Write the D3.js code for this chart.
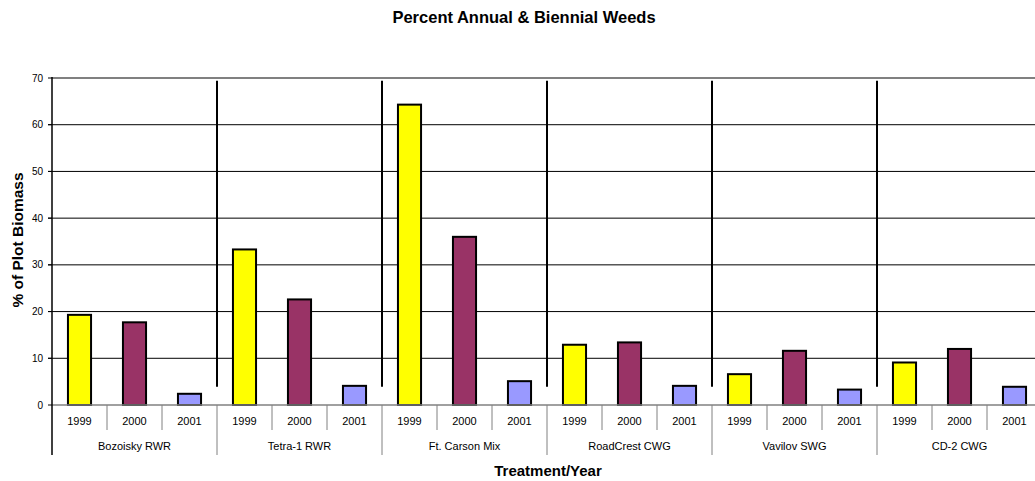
<!DOCTYPE html>
<html><head><meta charset="utf-8">
<script src="https://cdn.jsdelivr.net/npm/d3@7/dist/d3.min.js"></script>
<style>body{margin:0;background:#fff;}svg{display:block;font-family:"Liberation Sans",Arial,sans-serif;}</style>
</head><body>
<svg id="c" width="1035" height="481"></svg>
<script>
const groups = ["Bozoisky RWR","Tetra-1 RWR","Ft. Carson Mix","RoadCrest CWG","Vavilov SWG","CD-2 CWG"];
const years = ["1999","2000","2001"];
const v1999 = [19.3, 33.3, 64.3, 12.9, 6.6, 9.1];
const v2000 = [17.7, 22.6, 36.0, 13.4, 11.6, 12.0];
const v2001 = [2.4, 4.1, 5.1, 4.1, 3.3, 3.9];
const yTicks = [0,10,20,30,40,50,60,70];
const colors = ["#FFFF00","#993366","#9999FF"];

const series = [v1999, v2000, v2001];
const data = [];
groups.forEach((g,gi)=>years.forEach((y,yi)=>data.push({g, y, yi, v: series[yi][gi]})));

const svg = d3.select("#c");
const L = 52, R = 1042, T = 78, B = 405;
const xg = d3.scaleBand().domain(groups).range([L,R]);
const xy = d3.scaleBand().domain(years).range([0,xg.bandwidth()]).paddingInner(0.58).paddingOuter(0.29);
const xc = d3.scaleBand().domain(years).range([0,xg.bandwidth()]);
const y = d3.scaleLinear().domain([0,70]).range([B,T]);

// gridlines
svg.append("g").selectAll("line").data(yTicks.filter(t=>t>0 && t<70)).join("line")
  .attr("x1",L-4).attr("x2",R).attr("y1",d=>y(d)).attr("y2",d=>y(d))
  .attr("stroke","#000").attr("stroke-width",1);
// top border
svg.append("line").attr("x1",L).attr("x2",R).attr("y1",y(70)).attr("y2",y(70)).attr("stroke","#808080").attr("stroke-width",2);

// separators inside plot
svg.append("g").selectAll("line").data(groups.slice(1)).join("line")
  .attr("x1",d=>xg(d)).attr("x2",d=>xg(d)).attr("y1",y(69.4)).attr("y2",y(3.9))
  .attr("stroke","#000").attr("stroke-width",2);

// bars
svg.append("g").selectAll("rect").data(data).join("rect")
  .attr("x",d=>xg(d.g)+xy(d.y)).attr("width",xy.bandwidth())
  .attr("y",d=>y(d.v)).attr("height",d=>y(0)-y(d.v))
  .attr("fill",d=>colors[d.yi]).attr("stroke","#000").attr("stroke-width",2);

// baseline
svg.append("line").attr("x1",L).attr("x2",R).attr("y1",B).attr("y2",B).attr("stroke","#808080").attr("stroke-width",1.5);

// y axis
svg.append("line").attr("x1",L).attr("x2",L).attr("y1",T-1).attr("y2",455).attr("stroke","#000").attr("stroke-width",1.5);
const ya = svg.append("g");
ya.selectAll("line").data(yTicks).join("line")
  .attr("x1",L-4).attr("x2",L).attr("y1",d=>y(d)).attr("y2",d=>y(d)).attr("stroke","#000");
ya.selectAll("text").data(yTicks).join("text")
  .attr("x",L-9).attr("y",d=>y(d)).attr("dy","0.35em").attr("text-anchor","end")
  .attr("font-size",10).text(d=>d);

// category dividers
const cats = [];
groups.forEach(g=>years.forEach((yy,i)=>{ if(i>0) cats.push(xg(g)+xc(yy)); }));
svg.append("g").selectAll("line").data(cats).join("line")
  .attr("x1",d=>d).attr("x2",d=>d).attr("y1",B).attr("y2",430).attr("stroke","#808080");
svg.append("g").selectAll("line").data(groups.slice(1)).join("line")
  .attr("x1",d=>xg(d)).attr("x2",d=>xg(d)).attr("y1",B).attr("y2",455).attr("stroke","#808080");

// year labels
svg.append("g").selectAll("text").data(data).join("text")
  .attr("x",d=>xg(d.g)+xc(d.y)+xc.bandwidth()/2).attr("y",421).attr("dy","0.35em")
  .attr("text-anchor","middle").attr("font-size",11).text(d=>d.y);
// group labels
svg.append("g").selectAll("text").data(groups).join("text")
  .attr("x",d=>xg(d)+xg.bandwidth()/2).attr("y",446).attr("dy","0.35em")
  .attr("text-anchor","middle").attr("font-size",11).text(d=>d);

// titles
svg.append("text").attr("x",524).attr("y",23).attr("text-anchor","middle")
  .attr("font-size",16.5).attr("font-weight","bold").text("Percent Annual & Biennial Weeds");
svg.append("text").attr("x",548).attr("y",476).attr("text-anchor","middle")
  .attr("font-size",15).attr("font-weight","bold").text("Treatment/Year");
svg.append("text").attr("transform","translate(23,240) rotate(-90)").attr("text-anchor","middle")
  .attr("font-size",15.5).attr("font-weight","bold").text("% of Plot Biomass");
</script>
</body></html>
